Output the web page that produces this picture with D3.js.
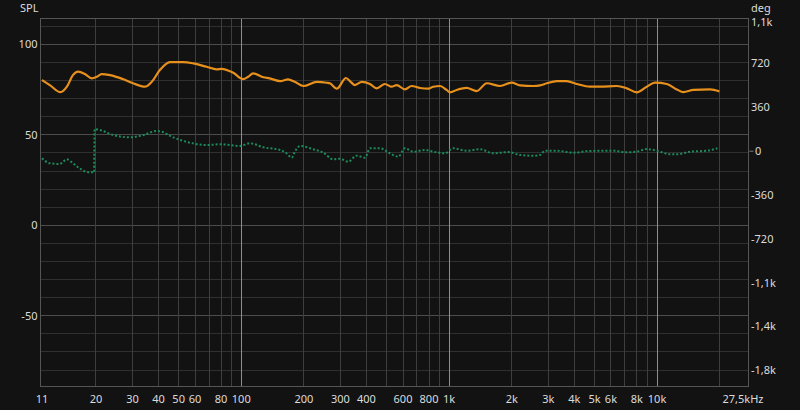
<!DOCTYPE html>
<html><head><meta charset="utf-8">
<script src="https://cdn.jsdelivr.net/npm/d3@7"></script>
<style>
html,body{margin:0;padding:0;background:#121212;}
svg{display:block;font-family:"Noto Sans","Open Sans",sans-serif;}
</style></head>
<body><svg id="c" width="800" height="410"></svg>
<script>
// ---- data ----
const splFreq = [11,12,13.5,14.5,15.5,16.4,17.7,19.1,20.2,21.3,23.4,27.1,30.2,34.4,37.1,40.6,45.4,52.6,58.8,68.2,76.1,80.5,91.5,102,108,114,128,137,154,168,181,199,231,258,267,288,319,336,352,380,416,448,491,529,559,613,660,724,794,839,904,973,1009,1087,1214,1357,1516,1757,2000,2192,2540,2736,2947,3292,3677,4108,4761,5318,6400,7150,7988,8920,9780,11140,12440,13380,14950,17990,19940];
const splDb = [80.3,77.5,73.6,76.6,83.0,84.9,83.6,81.2,82.1,83.6,83.0,80.7,78.5,76.6,79.3,85.8,90.2,90.2,89.5,87.6,86.2,86.5,84.3,80.8,82.1,84.0,81.8,81.2,79.7,80.7,79.3,77.0,79.3,78.8,78.5,75.5,81.4,79.3,77.5,79.3,78.1,75.7,78.1,76.6,77.5,75.1,77.0,75.9,75.5,76.6,77.0,74.8,73.5,74.8,75.9,74.2,78.5,77.0,78.8,77.3,77.0,77.3,78.5,79.7,79.7,78.1,76.6,76.6,77.0,75.7,73.5,76.6,78.8,78.1,75.1,73.6,74.8,75.1,74.0];
const phFreq = [11,12,13.4,14.5,15.5,16.7,18.4,19.4,19.6,19.7,20.9,24.2,29.1,33.8,39.2,41.4,47.1,56.6,68.2,79.0,98.6,110,128,154,165,175,181,192,222,248,277,298,327,359,394,416,465,519,569,613,672,765,839,955,1047,1214,1407,1631,1926,2192,2540,2736,2891,3292,3958,4761,6162,7150,7988,8920,9970,11550,12440,14410,17340,19510];
const phDeg = [-58,-99,-105,-67,-99,-141,-173,-173,-175,182,174,133,114,133,166,160,114,70,51,57,43,65,32,10,-17,-53,-4,43,16,-12,-67,-62,-86,-37,-53,24,24,-17,-45,24,-4,10,-4,-17,24,4,16,-17,-7,-31,-37,-31,4,4,-12,2,4,-9,-4,18,4,-25,-25,-4,4,24];
const xTickVals = [11,20,30,40,50,60,80,100,200,300,400,600,800,1000,2000,3000,4000,5000,6000,8000,10000];
const xTickLabels = ["11","20","30","40","50","60","80","100","200","300","400","600","800","1k","2k","3k","4k","5k","6k","8k","10k"];
const endLabel = "27,5kHz";
const splTicks = [100,50,0,-50];
const degTicks = [1080,720,360,0,-360,-720,-1080,-1440,-1800];
const degLabels = ["1,1k","720","360","0","-360","-720","-1,1k","-1,4k","-1,8k"];

// ---- layout ----
const L=40.3, R=748.4, T=18.3, B=386;
const svg = d3.select("#c");
const x = d3.scaleLog().domain([10.8,27500]).range([L,R]);
const y = d3.scaleLinear().domain([-88.8,114.4]).range([B,T]);
const yp = d3.scaleLinear().domain([-1929,1092]).range([B,T]);

svg.append("rect").attr("width",800).attr("height",410).attr("fill","#121212");

// horizontal grid
const g = svg.append("g");
for (let v=-80; v<=110; v+=10) {
  const yy = y(v);
  if (yy < T+1) continue;
  g.append("line").attr("x1",L).attr("x2",R).attr("y1",yy).attr("y2",yy)
   .attr("stroke", v%50===0 ? "#4c4c4c" : "#303030").attr("stroke-width",1).attr("shape-rendering","crispEdges");
}
// vertical grid
const gridF = [];
[10,100,1000,10000].forEach(d=>{for(let k=1;k<10;k++){const f=d*k; if(f>=20 && f<=20000) gridF.push(f);}});
gridF.forEach(f=>{
  const decade = (f===100||f===1000||f===10000);
  g.append("line").attr("x1",x(f)).attr("x2",x(f)).attr("y1",T).attr("y2",B)
   .attr("stroke", decade ? "#8e8e8e" : "#3e3e3e").attr("stroke-width",1).attr("shape-rendering","crispEdges");
});
// frame
svg.append("rect").attr("x",L).attr("y",T).attr("width",R-L).attr("height",B-T)
  .attr("fill","none").attr("stroke","#555").attr("shape-rendering","crispEdges");
// zero tick on phase axis
svg.append("line").attr("x1",R+1).attr("x2",R+5).attr("y1",yp(0)).attr("y2",yp(0)).attr("stroke","#6c7c8c");

// curves
const lineSpl = d3.line().x((d,i)=>x(splFreq[i])).y(d=>y(d)).curve(d3.curveMonotoneX);
svg.append("path").attr("d",lineSpl(splDb)).attr("fill","none")
  .attr("stroke","#e8901c").attr("stroke-width",2.2).attr("stroke-linejoin","round");
const linePh = d3.line().x((d,i)=>x(phFreq[i])).y(d=>yp(d)).curve(d3.curveMonotoneX);
svg.append("path").attr("d",linePh(phDeg)).attr("fill","none")
  .attr("stroke","#1c8c5c").attr("stroke-width",2).attr("stroke-dasharray","2,2");

// axis texts
const tc = "#dcdcdc";
const ax = svg.append("g").attr("fill",tc).attr("font-size",11);
xTickVals.forEach((v,i)=>{
  ax.append("text").attr("x",x(v)).attr("y",399).attr("dy","0.35em").attr("text-anchor","middle").text(xTickLabels[i]);
});
ax.append("text").attr("x",743).attr("y",399).attr("dy","0.35em").attr("text-anchor","middle").text(endLabel);
splTicks.forEach(v=>{
  ax.append("text").attr("x",37.5).attr("y",y(v)).attr("dy","0.35em").attr("text-anchor","end").text(v);
});
degTicks.forEach((v,i)=>{
  ax.append("text").attr("x",v===0?755:751).attr("y",yp(v)+ (v===1080?2:0)).attr("dy","0.35em").attr("text-anchor","start").text(degLabels[i]);
});
ax.append("text").attr("x",20).attr("y",8).attr("dy","0.35em").text("SPL");
ax.append("text").attr("x",751).attr("y",8).attr("dy","0.35em").text("deg");
</script></body></html>
